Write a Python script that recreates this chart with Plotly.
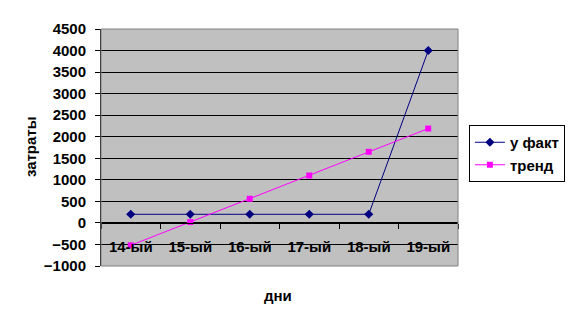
import plotly.graph_objects as go

days = ["14-ый", "15-ый", "16-ый", "17-ый", "18-ый", "19-ый"]
fact = [200, 200, 200, 200, 200, 4000]
trend = [-520, 20, 560, 1100, 1650, 2190]
y_ticks = [-1000, -500, 0, 500, 1000, 1500, 2000, 2500, 3000, 3500, 4000, 4500]

FONT = "Liberation Sans"
FS = 15

L, T, R, B = 101, 29, 116, 59
W, H = 577, 325
PW, PH = W - L - R, H - T - B
ymin, ymax = -1000, 4500
zero_pos = (0 - ymin) / (ymax - ymin)

fig = go.Figure()
fig.add_trace(go.Scatter(
    x=days, y=fact, name="у факт", mode="lines+markers", legendgroup="a",
    line=dict(color="#000080", width=1),
    marker=dict(symbol="diamond", size=7, color="#000080"),
))
fig.add_trace(go.Scatter(
    x=days, y=trend, name="тренд", mode="lines+markers", legendgroup="b",
    line=dict(color="#FF00FF", width=1),
    marker=dict(symbol="square", size=6, color="#FF00FF"),
))

bold = dict(family=FONT, size=FS, color="black", weight="bold")

fig.update_layout(
    width=W, height=H,
    margin=dict(l=L, r=R, t=T, b=B, pad=0),
    paper_bgcolor="white",
    plot_bgcolor="#C0C0C0",
    font=bold,
    showlegend=True,
    legend=dict(
        x=(472 - L) / PW, xanchor="left", y=(H - B - 125) / PH, yanchor="top",
        bgcolor="white", bordercolor="black", borderwidth=1,
        font=bold, itemwidth=30, tracegroupgap=0,
    ),
    xaxis=dict(
        type="category",
        anchor="free", position=zero_pos,
        showgrid=False, zeroline=False,
        showline=True, linecolor="black", linewidth=1,
        ticks="outside", ticklen=5, tickcolor="black", tickson="boundaries",
        tickfont=bold, ticklabelstandoff=10,
        range=[-0.5, 5.5],
    ),
    yaxis=dict(
        range=[ymin, ymax],
        tickvals=y_ticks,
        showgrid=True, gridcolor="black", gridwidth=1,
        zeroline=False,
        showline=True, linecolor="black", linewidth=1,
        ticks="outside", ticklen=5, tickcolor="black",
        tickfont=bold, ticklabelstandoff=6,
    ),
    shapes=[dict(
        type="rect", xref="paper", yref="paper", x0=0, x1=1, y0=0, y1=1,
        line=dict(color="#808080", width=1), layer="above",
    )],
    annotations=[
        dict(text="затраты", xref="paper", yref="paper",
             x=(30 - L) / PW, y=(H - B - 146.5) / PH,
             xanchor="center", yanchor="middle",
             showarrow=False, textangle=-90, font=bold),
        dict(text="дни", xref="paper", yref="paper",
             x=(279.5 - L) / PW, y=(H - B - 295) / PH,
             xanchor="center", yanchor="middle",
             showarrow=False, font=bold),
    ],
)

fig.write_html("out.html")
